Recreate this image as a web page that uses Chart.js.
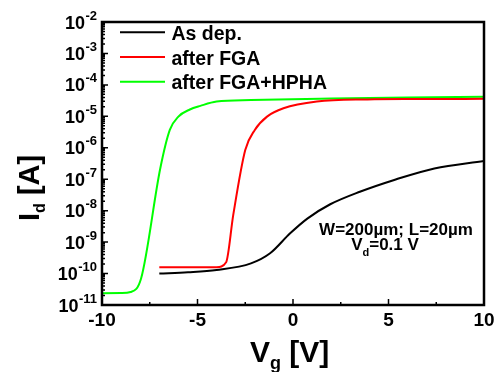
<!DOCTYPE html>
<html>
<head>
<meta charset="utf-8">
<script src="https://cdn.jsdelivr.net/npm/chart.js@4/dist/chart.umd.min.js"></script>
<style>
html, body { margin: 0; padding: 0; background: #fff; }
#box { width: 499px; height: 372px; }
</style>
</head>
<body>
<div id="box"><canvas id="c"></canvas></div>
<script>
// 読み取った値 (Vg [V], Id [A])
const asDepVg = [-7, -5.5, -4, -2.2, -1.2, -0.15, 0.75, 1.95, 3.5, 5.3, 7.4, 10]
const asDepId = [1.0e-10, 1.1e-10, 1.3e-10, 2.1e-10, 4.4e-10, 1.9e-9, 5.6e-9, 1.6e-8, 4.0e-8, 9.5e-8, 2.2e-7, 3.8e-7]
const fgaVg = [-7, -4, -3.5, -3.13, -2.5, -2.0, -1.36, -0.5, 1.25, 3.9, 6.5, 10]
const fgaId = [1.6e-10, 1.6e-10, 2.3e-10, 7.2e-9, 8.5e-7, 3.7e-6, 9.8e-6, 1.8e-5, 2.95e-5, 3.45e-5, 3.55e-5, 3.6e-5]
const hphaVg = [-10, -9.0, -8.5, -7.95, -6.95, -6.45, -6.0, -5.4, -4.85, -4.0, -2.2, 2, 6, 10]
const hphaId = [2.35e-11, 2.4e-11, 2.6e-11, 7.1e-11, 2.2e-7, 3.7e-6, 9.8e-6, 1.65e-5, 2.15e-5, 2.95e-5, 3.3e-5, 3.7e-5, 4.0e-5, 4.2e-5]
const seriesNames = ["As dep.", "after FGA", "after FGA+HPHA"]
const seriesColors = ["#000000", "#ff0000", "#00ff00"]
const xTicks = [-10, -5, 0, 5, 10]
const xMinor = [-7.5, -2.5, 2.5, 7.5]
const yExps = [-2, -3, -4, -5, -6, -7, -8, -9, -10, -11]

const FONT = '"Liberation Sans", Arial, sans-serif'

function pts(xs, ys) {
    return xs.map((x, i) => ({ x: x, y: ys[i] }))
}

// 軸・凡例・注釈の描画
const decor = {
    id: 'decor',
    afterDraw(chart) {
        const ctx = chart.ctx
        const a = chart.chartArea
        const xs = chart.scales.x
        const ys = chart.scales.y
        ctx.save()
        ctx.fillStyle = '#000'
        ctx.strokeStyle = '#000'

        // 目盛り(内向き)
        ctx.lineWidth = 1.5
        ctx.beginPath()
        xTicks.forEach(v => {
            const px = xs.getPixelForValue(v)
            ctx.moveTo(px, a.bottom); ctx.lineTo(px, a.bottom - 6)
        })
        xMinor.forEach(v => {
            const px = xs.getPixelForValue(v)
            ctx.moveTo(px, a.bottom); ctx.lineTo(px, a.bottom - 3)
        })
        yExps.forEach(e => {
            const py = ys.getPixelForValue(Math.pow(10, e))
            ctx.moveTo(a.left, py); ctx.lineTo(a.left + 6, py)
        })
        for (let e = -11; e < -2; e++) {
            for (let m = 2; m <= 9; m++) {
                const py = ys.getPixelForValue(m * Math.pow(10, e))
                ctx.moveTo(a.left, py); ctx.lineTo(a.left + 3, py)
            }
        }
        ctx.stroke()

        // 枠
        ctx.lineWidth = 2.5
        ctx.strokeRect(a.left, a.top, a.right - a.left, a.bottom - a.top)

        // x目盛りラベル
        ctx.font = 'bold 19px ' + FONT
        ctx.textAlign = 'center'
        ctx.textBaseline = 'alphabetic'
        xTicks.forEach(v => {
            ctx.fillText(String(v), xs.getPixelForValue(v), 326)
        })

        // y目盛りラベル 10^n
        ctx.textAlign = 'left'
        yExps.forEach(e => {
            const py = ys.getPixelForValue(Math.pow(10, e))
            const ex = String(e)
            ctx.font = 'bold 13px ' + FONT
            const ew = ctx.measureText(ex).width
            ctx.fillText(ex, 97 - ew, py - 2.5)
            ctx.font = 'bold 18px ' + FONT
            const bw = ctx.measureText('10').width
            ctx.fillText('10', 97 - ew - bw - 0.5, py + 6.5)
        })

        // x軸タイトル V_g [V]
        let x0 = 250
        ctx.font = 'bold 30px ' + FONT
        ctx.fillText('V', x0, 362)
        x0 += ctx.measureText('V').width
        ctx.font = 'bold 18px ' + FONT
        ctx.fillText('g', x0, 369)
        x0 += ctx.measureText('g').width
        ctx.font = 'bold 30px ' + FONT
        ctx.fillText(' [V]', x0, 362)

        // y軸タイトル I_d [A]
        ctx.save()
        ctx.translate(39, 221)
        ctx.rotate(-Math.PI / 2)
        let t0 = 0
        ctx.font = 'bold 29px ' + FONT
        ctx.fillText('I', t0, 0)
        t0 += ctx.measureText('I').width
        ctx.font = 'bold 16px ' + FONT
        ctx.fillText('d', t0, 6)
        t0 += ctx.measureText('d').width
        ctx.font = 'bold 29px ' + FONT
        ctx.fillText(' [A]', t0, 0)
        ctx.restore()

        // 凡例
        ctx.font = 'bold 19.5px ' + FONT
        chart.data.datasets.forEach((ds, i) => {
            const ly = 32.3 + i * 24.7
            ctx.strokeStyle = ds.borderColor
            ctx.lineWidth = 2
            ctx.beginPath()
            ctx.moveTo(120, ly); ctx.lineTo(165, ly)
            ctx.stroke()
            ctx.fillStyle = '#000'
            ctx.fillText(ds.label, 171.5, ly + 7.5)
        })

        // 注釈
        ctx.font = 'bold 17px ' + FONT
        ctx.textAlign = 'center'
        ctx.fillText('W=200\u00b5m; L=20\u00b5m', 396, 235)
        ctx.textAlign = 'left'
        const wV = ctx.measureText('V').width
        const wR = ctx.measureText('=0.1 V').width
        ctx.font = 'bold 11px ' + FONT
        const wd = ctx.measureText('d').width
        let s0 = 385 - (wV + wd + wR) / 2
        ctx.font = 'bold 17px ' + FONT
        ctx.fillText('V', s0, 250)
        s0 += wV
        ctx.font = 'bold 11px ' + FONT
        ctx.fillText('d', s0, 256)
        s0 += wd
        ctx.font = 'bold 17px ' + FONT
        ctx.fillText('=0.1 V', s0, 250)

        ctx.restore()
    }
}

const allX = [asDepVg, fgaVg, hphaVg]
const allY = [asDepId, fgaId, hphaId]

new Chart(document.getElementById('c'), {
    type: 'line',
    data: {
        datasets: seriesNames.map((name, i) => ({
            label: name,
            data: pts(allX[i], allY[i]),
            borderColor: seriesColors[i],
            borderWidth: 2,
            pointRadius: 0,
            fill: false,
            cubicInterpolationMode: 'monotone'
        }))
    },
    options: {
        responsive: true,
        maintainAspectRatio: false,
        animation: false,
        layout: { padding: { left: 102, right: 15, top: 22, bottom: 67 } },
        scales: {
            x: { type: 'linear', min: -10, max: 10, display: false },
            y: { type: 'logarithmic', min: 1e-11, max: 1e-2, display: false }
        },
        plugins: {
            legend: { display: false },
            tooltip: { enabled: false }
        }
    },
    plugins: [decor]
})
</script>
</body>
</html>
